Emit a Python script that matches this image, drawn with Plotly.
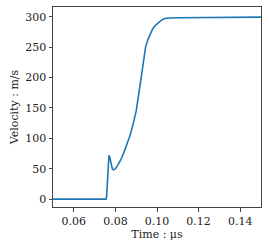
import plotly.graph_objects as go

time_us = [0.05, 0.0755, 0.0758, 0.0762, 0.0766, 0.0769, 0.0772, 0.0776, 0.0781, 0.0786,
           0.0792, 0.0800, 0.0810, 0.0825, 0.0840, 0.0855, 0.0870, 0.0885, 0.0900, 0.0924,
           0.0945, 0.0956, 0.0966, 0.0978, 0.0990, 0.1005, 0.1020, 0.1037, 0.1060, 0.1100,
           0.1200, 0.1300, 0.1400, 0.1500]
velocity = [0, 0, 5, 30, 60, 72, 70, 62, 54, 49,
            48, 50, 55, 64, 76, 89, 104, 123, 145, 200,
            250, 262, 271, 279, 285, 290, 294, 297, 298, 298.3,
            298.6, 298.9, 299.1, 299.3]

fig = go.Figure()
fig.add_trace(go.Scatter(x=time_us, y=velocity, mode="lines",
                         line=dict(color="#1f77b4", width=1.6),
                         showlegend=False))

font = dict(family="DejaVu Serif", size=11, color="#222")
axis_common = dict(showline=True, linecolor="#444", linewidth=1, mirror=True,
                   showgrid=False, zeroline=False, ticks="outside", ticklen=3.5,
                   tickwidth=1, tickcolor="#444", tickfont=font, automargin=False)
fig.update_layout(
    width=269, height=242,
    margin=dict(l=53, r=8, t=7, b=35),
    paper_bgcolor="white", plot_bgcolor="white",
    font=font,
    xaxis=dict(range=[0.05, 0.15], tickvals=[0.06, 0.08, 0.10, 0.12, 0.14],
               ticktext=["0.06", "0.08", "0.10", "0.12", "0.14"],
               title=dict(text="Time : μs", font=font, standoff=2), **axis_common),
    yaxis=dict(range=[-13, 316], tickvals=[0, 50, 100, 150, 200, 250, 300],
               title=dict(text="Velocity : m/s", font=font, standoff=4), **axis_common),
)
fig.write_html("out.html", config={"displayModeBar": False},
               post_script="document.body.style.margin='0';")
